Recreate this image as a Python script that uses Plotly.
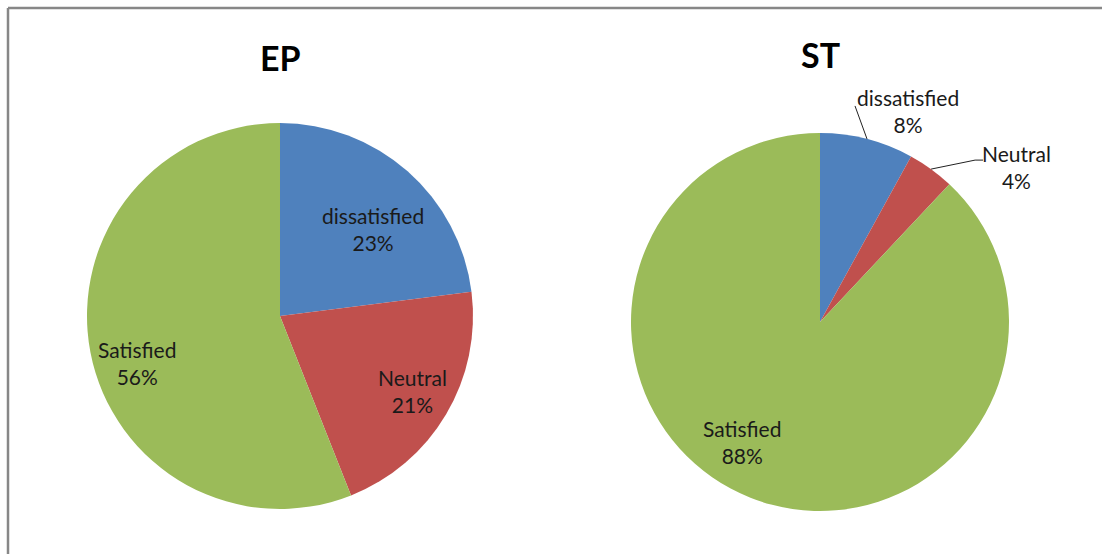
import math
import plotly.graph_objects as go

W, H = 1102, 554

categories = ["dissatisfied", "Neutral", "Satisfied"]
ep_values = [23, 21, 56]
st_values = [8, 4, 88]
colors = ["#4F81BD", "#C0504D", "#9BBB59"]

FONT = "Lato"
TEXT_COLOR = "#1a1a1a"
LABEL_SIZE = 21

# pie geometry in pixels: centre x, centre y, radius
pies = [
    {"title": "EP", "values": ep_values, "cx": 280, "cy": 316, "r": 193, "title_y": 57},
    {"title": "ST", "values": st_values, "cx": 820, "cy": 322, "r": 189, "title_y": 54},
]

# label placement per slice: (angle nudge in degrees, radius fraction, mode)
label_style = {
    "EP": [(5.5, 0.66, "in"), (-1.0, 0.79, "in"), (-7.4, 0.78, "in")],
    "ST": [(0, 1.0, "out_up"), (0, 1.0, "out_right"), (11.4, 0.76, "in")],
}


def paper(x, y):
    return x / W, 1 - y / H


fig = go.Figure()
annotations = []
shapes = []

for p in pies:
    x0, y1 = paper(p["cx"] - p["r"], p["cy"] - p["r"])
    x1, y0 = paper(p["cx"] + p["r"], p["cy"] + p["r"])
    fig.add_trace(go.Pie(
        labels=categories,
        values=p["values"],
        sort=False,
        direction="clockwise",
        rotation=0,
        marker=dict(colors=colors, line=dict(width=0)),
        textinfo="none",
        hoverinfo="label+percent",
        showlegend=False,
        domain=dict(x=[x0, x1], y=[y0, y1]),
    ))

    tx, ty = paper(p["cx"], p["title_y"])
    annotations.append(dict(
        x=tx, y=ty, xref="paper", yref="paper", text="<b>%s</b>" % p["title"],
        showarrow=False, font=dict(family=FONT, size=34, color="#000"),
        xanchor="center", yanchor="middle",
    ))

    total = sum(p["values"])
    start = 0.0
    for cat, val, (nudge, frac, mode) in zip(categories, p["values"], label_style[p["title"]]):
        share = val / total
        mid = (start + share / 2) * 360.0
        start += share
        pct = "%d%%" % round(share * 100)
        text = "%s<br>%s" % (cat, pct)
        a = math.radians(mid + nudge)
        if mode == "in":
            lx = p["cx"] + frac * p["r"] * math.sin(a)
            ly = p["cy"] - frac * p["r"] * math.cos(a)
        else:
            ex = p["cx"] + p["r"] * math.sin(a)
            ey = p["cy"] - p["r"] * math.cos(a)
            if mode == "out_up":
                kx, ky = ex - 12, ey - 33
                path = "M %f %f L %f %f" % (*paper(ex, ey), *paper(kx, ky))
                lx, ly = kx + 53, ky + 5
            else:
                kx, ky = ex + 44, ey - 9
                hx = kx + 8
                path = "M %f %f L %f %f L %f %f" % (*paper(ex, ey), *paper(kx, ky), *paper(hx, ky))
                lx, ly = hx + 33, ky + 7
            shapes.append(dict(type="path", xref="paper", yref="paper", path=path,
                               line=dict(color="#222", width=1)))
        ax, ay = paper(lx, ly)
        annotations.append(dict(
            x=ax, y=ay, xref="paper", yref="paper", text=text, showarrow=False,
            font=dict(family=FONT, size=LABEL_SIZE, color=TEXT_COLOR),
            xanchor="center", yanchor="middle", align="center",
        ))

# outer frame of the chart area (top and left edges inside the window)
fx, fy = paper(8, 8)
shapes.append(dict(type="line", xref="paper", yref="paper", x0=fx, y0=fy, x1=1, y1=fy,
                   line=dict(color="#878787", width=2.5)))
shapes.append(dict(type="line", xref="paper", yref="paper", x0=fx, y0=fy, x1=fx, y1=0,
                   line=dict(color="#878787", width=2.5)))

fig.update_layout(
    width=W, height=H,
    margin=dict(l=0, r=0, t=0, b=0),
    paper_bgcolor="white",
    plot_bgcolor="white",
    annotations=annotations,
    shapes=shapes,
    font=dict(family=FONT),
)

fig.write_html("out.html", config={"displayModeBar": False})
